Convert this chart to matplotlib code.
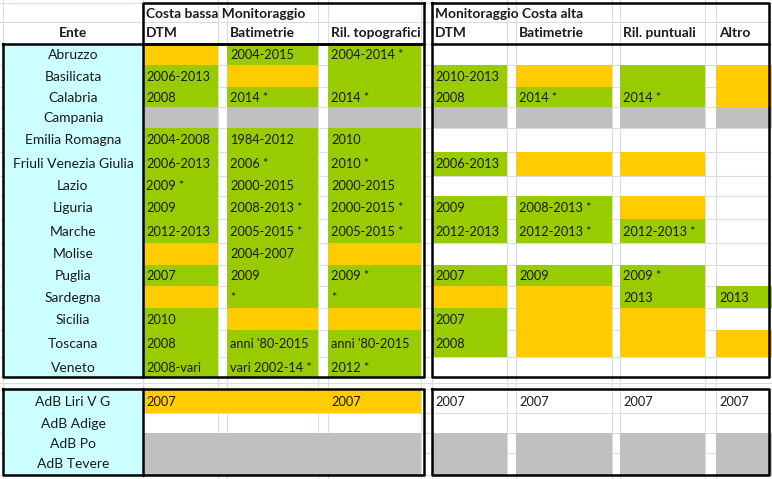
import matplotlib.pyplot as plt
from matplotlib.patches import Rectangle

plt.rcParams['font.family'] = ['Lato', 'DejaVu Sans']

# --- data -----------------------------------------------------------------
regions = ['Abruzzo', 'Basilicata', 'Calabria', 'Campania', 'Emilia Romagna',
           'Friuli Venezia Giulia', 'Lazio', 'Liguria', 'Marche', 'Molise',
           'Puglia', 'Sardegna', 'Sicilia', 'Toscana', 'Veneto']
adb_names = ['AdB Liri V G', 'AdB Adige', 'AdB Po', 'AdB Tevere']

bassa_title = 'Costa bassa Monitoraggio'
alta_title = 'Monitoraggio Costa alta'
bassa_cols = ['DTM', 'Batimetrie', 'Ril. topografici']
alta_cols = ['DTM', 'Batimetrie', 'Ril. puntuali', 'Altro']

# g = green (available), y = yellow, s = grey, w = empty
bassa_status = ['ygg', 'gyg', 'ggg', 'sss', 'ggg', 'ggg', 'ggg', 'ggg',
                'ggg', 'ygy', 'ggg', 'ygg', 'gyy', 'ggg', 'ggg']
bassa_text = [
    ['', '2004-2015', '2004-2014 *'],
    ['2006-2013', '', ''],
    ['2008', '2014 *', '2014 *'],
    ['', '', ''],
    ['2004-2008', '1984-2012', '2010'],
    ['2006-2013', '2006 *', '2010 *'],
    ['2009 *', '2000-2015', '2000-2015'],
    ['2009', '2008-2013 *', '2000-2015 *'],
    ['2012-2013', '2005-2015 *', '2005-2015 *'],
    ['', '2004-2007', ''],
    ['2007', '2009', '2009 *'],
    ['', '*', '*'],
    ['2010', '', ''],
    ['2008', "anni '80-2015", "anni '80-2015"],
    ['2008-vari', 'vari 2002-14 *', '2012 *'],
]
alta_status = ['wwww', 'gygy', 'gggy', 'ssss', 'wwww', 'gyyw', 'wwww', 'ggyw',
               'gggw', 'wwww', 'gggw', 'yygg', 'gyyw', 'gyyy', 'wwww']
alta_text = [
    ['', '', '', ''],
    ['2010-2013', '', '', ''],
    ['2008', '2014 *', '2014 *', ''],
    ['', '', '', ''],
    ['', '', '', ''],
    ['2006-2013', '', '', ''],
    ['', '', '', ''],
    ['2009', '2008-2013 *', '', ''],
    ['2012-2013', '2012-2013 *', '2012-2013 *', ''],
    ['', '', '', ''],
    ['2007', '2009', '2009 *', ''],
    ['', '', '2013', '2013'],
    ['2007', '', '', ''],
    ['2008', '', '', ''],
    ['', '', '', ''],
]
adb_bassa_fill = ['y', 'w', 's', 's']
adb_bassa_text = [['2007', '', '2007'], ['', '', ''], ['', '', ''], ['', '', '']]
adb_alta_status = ['wwww', 'wwww', 'ssss', 'ssss']
adb_alta_text = [['2007', '2007', '2007', '2007'], ['', '', '', ''],
                 ['', '', '', ''], ['', '', '', '']]

# --- sheet layout (pixels) -------------------------------------------------
name_col = (3, 143)
bassa_x = [(143, 218), (227, 318), (328, 421)]
alta_x = [(432, 507), (516, 612), (620, 705), (716, 772)]
grid_x = [3, 143, 218, 227, 318, 328, 421, 432, 507, 516, 612, 620, 705, 716]
row_y = [44, 65, 87, 107, 128, 152, 176, 196, 219, 243, 265, 286, 308, 330, 357, 377]
adb_y = [389, 413, 433, 453, 475]
grid_y = [3, 22] + row_y + [383] + adb_y

colors = {'g': '#99cc00', 'y': '#ffcc00', 's': '#c0c0c0', 'w': 'white'}
cyan = '#ccffff'
fs_name = 10
fs_val = 9.2
fs_head = 9.9

fig = plt.figure(figsize=(7.72, 4.79), dpi=100)
ax = fig.add_axes([0, 0, 1, 1])
ax.set_xlim(0, 772)
ax.set_ylim(479, 0)
ax.axis('off')

# excel gridlines
for x in grid_x:
    ax.axvline(x, color='#d9dde6', lw=0.8, zorder=0)
for y in grid_y:
    ax.axhline(y, color='#d9dde6', lw=0.8, zorder=0)


def cell(x0, x1, y0, y1, c):
    if c != 'w':
        ax.add_patch(Rectangle((x0, y0), x1 - x0, y1 - y0, color=colors[c], lw=0, zorder=1))


def txt(x, y, s, size, **kw):
    ax.text(x, y, s, fontsize=size, va='center', color='#1a1a1a', zorder=3, **kw)


# name column
ax.add_patch(Rectangle((name_col[0], row_y[0]), name_col[1] - name_col[0],
                       row_y[-1] - row_y[0], color=cyan, lw=0, zorder=1))
ax.add_patch(Rectangle((name_col[0], adb_y[0]), name_col[1] - name_col[0],
                       adb_y[-1] - adb_y[0], color=cyan, lw=0, zorder=1))

for i, name in enumerate(regions):
    y0, y1 = row_y[i], row_y[i + 1]
    yc = (y0 + y1) / 2 + 0.5
    txt(sum(name_col) / 2, yc, name, fs_name, ha='center')
    for j, (x0, x1) in enumerate(bassa_x):
        cell(x0, x1, y0, y1, bassa_status[i][j])
        txt(x0 + 3, yc, bassa_text[i][j], fs_val)
    for j, (x0, x1) in enumerate(alta_x):
        cell(x0, x1, y0, y1, alta_status[i][j])
        txt(x0 + 3, yc, alta_text[i][j], fs_val)

for i, name in enumerate(adb_names):
    y0, y1 = adb_y[i], adb_y[i + 1]
    yc = (y0 + y1) / 2 + 0.5
    txt(sum(name_col) / 2, yc, name, fs_name, ha='center')
    cell(bassa_x[0][0], bassa_x[-1][1], y0, y1, adb_bassa_fill[i])
    for j, (x0, x1) in enumerate(bassa_x):
        txt(x0 + 3, yc, adb_bassa_text[i][j], fs_val)
    for j, (x0, x1) in enumerate(alta_x):
        cell(x0, x1, y0, y1, adb_alta_status[i][j])
        txt(x0 + 3, yc, adb_alta_text[i][j], fs_val)

# header
hy1, hy2 = 14, 33
txt(bassa_x[0][0] + 3, hy1, bassa_title, fs_head, fontweight='bold')
txt(alta_x[0][0] + 3, hy1, alta_title, fs_head, fontweight='bold')
txt(sum(name_col) / 2, hy2, 'Ente', fs_head, ha='center', fontweight='bold')
for (x0, x1), c in zip(bassa_x, bassa_cols):
    txt(x0 + 3, hy2, c, fs_head, fontweight='bold')
for (x0, x1), c in zip(alta_x, alta_cols):
    txt(x0 + 3, hy2, c, fs_head, fontweight='bold')

# black borders
bk = dict(color='black', lw=1.8, zorder=4, solid_capstyle='projecting')
L, M, R = 3, 143, 424
ax.plot([M, R, R], [44, 44, 3], **bk)
ax.plot([M, M, R], [44, 3, 3], **bk)
ax.plot([L, L, R, R, L], [44, 377, 377, 44, 44], **bk)
ax.plot([M, M], [44, 377], **bk)
ax.plot([432, 432, 769, 769, 432], [3, 377, 377, 3, 3], **bk)
ax.plot([432, 769], [44, 44], **bk)
ax.plot([L, L, R, R, L], [adb_y[0], adb_y[-1], adb_y[-1], adb_y[0], adb_y[0]], **bk)
ax.plot([M, M], [adb_y[0], adb_y[-1]], **bk)
ax.plot([432, 432, 769, 769, 432], [adb_y[0], adb_y[-1], adb_y[-1], adb_y[0], adb_y[0]], **bk)

fig.savefig('out.png', dpi=100)
